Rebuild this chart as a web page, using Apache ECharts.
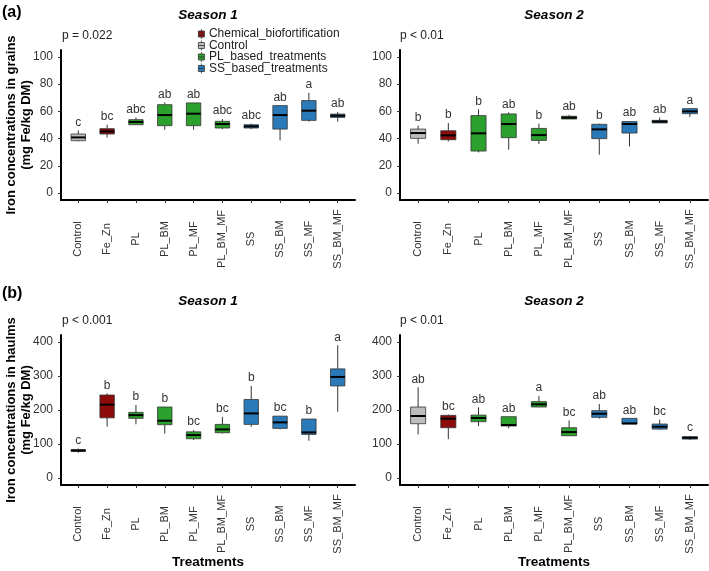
<!DOCTYPE html>
<html>
<head>
<meta charset="utf-8">
<script src="https://cdn.jsdelivr.net/npm/echarts@6.0.0/dist/echarts.min.js"></script>
<style>
html,body{margin:0;padding:0;background:#fff;}
#main{width:709px;height:571px;}
</style>
</head>
<body>
<div id="main"></div>
<script>
var treatments = ['Control','Fe_Zn','PL','PL_BM','PL_MF','PL_BM_MF','SS','SS_BM','SS_MF','SS_BM_MF'];
var treatmentGroup = ['Control','Chemical_biofortification','PL_based_treatments','PL_based_treatments','PL_based_treatments',
    'PL_based_treatments','SS_based_treatments','SS_based_treatments','SS_based_treatments','SS_based_treatments'];
var legendNames = ['Chemical_biofortification','Control','PL_based_treatments','SS_based_treatments'];

// box stats: [min, Q1, median, Q3, max]
var grainS1 = [
    [38.0, 38.5, 40.9, 43.4, 46.0], [40.9, 43.4, 45.3, 47.3, 50.2], [50.0, 50.2, 52.2, 53.9, 55.6],
    [46.5, 49.5, 57.3, 64.9, 66.6], [46.5, 49.5, 58.3, 66.2, 66.2], [47.0, 47.8, 50.7, 52.7, 54.4],
    [47.0, 47.8, 49.0, 50.2, 51.0], [38.7, 47.0, 57.3, 64.2, 64.2], [52.4, 53.4, 60.5, 67.9, 73.5],
    [52.4, 55.6, 56.8, 58.0, 59.6]
];
var grainS2 = [
    [36.3, 40.2, 44.1, 47.0, 49.5], [38.0, 39.2, 42.4, 45.8, 51.5], [29.9, 30.9, 43.9, 56.9, 61.5],
    [31.9, 40.7, 50.7, 58.1, 59.3], [36.0, 38.7, 42.6, 47.5, 51.0], [54.4, 54.4, 55.4, 56.4, 57.4],
    [28.2, 40.0, 46.8, 50.5, 51.0], [34.3, 44.1, 50.7, 52.5, 52.9], [51.5, 51.5, 52.5, 53.4, 55.4],
    [55.9, 58.3, 60.0, 62.0, 62.0]
];
var haulmS1 = [
    [74.5, 78.4, 81, 84, 87], [151, 177, 215.7, 244, 249], [158, 175.5, 185, 193, 214.7],
    [131, 156.9, 168.6, 208.8, 208.8], [111.8, 115.7, 126.5, 136, 141], [131, 133.3, 143, 157.8, 180],
    [151, 157.8, 190, 231, 270.6], [143, 146, 163.7, 182, 182], [109.8, 128.4, 134.3, 173.5, 173.5],
    [195, 270.6, 297, 320.6, 390]
];
var haulmS2 = [
    [128.4, 159.8, 182.4, 208.8, 266.7], [114.7, 148, 174.5, 184.3, 187], [153, 165.7, 176.5, 185, 207.8],
    [146, 153, 156, 180.4, 180.4], [208.8, 208.8, 216.7, 224.5, 241], [124.5, 124.5, 135.3, 148, 169.6],
    [174.5, 178.4, 189, 198, 217.6], [158.8, 158.8, 160.8, 175.5, 175.5], [142, 144, 151, 158.8, 171.6],
    [111.8, 114.7, 118.6, 121.6, 123.5]
];

// significance letters
var lettersGrainS1 = ['c','bc','abc','ab','ab','abc','abc','ab','a','ab'];
var lettersGrainS2 = ['b','b','b','ab','b','ab','b','ab','ab','a'];
var lettersHaulmS1 = ['c','b','b','b','bc','bc','b','bc','b','a'];
var lettersHaulmS2 = ['ab','bc','ab','ab','a','bc','ab','ab','bc','c'];

var pLabels = ['p = 0.022', 'p < 0.01', 'p < 0.001', 'p < 0.01'];
var grainTicks = [0, 20, 40, 60, 80, 100];
var haulmTicks = [0, 100, 200, 300, 400];
var catTicks = [0, 1, 2, 3, 4, 5, 6, 7, 8, 9];

var colors = {
    'Chemical_biofortification': '#8e0b0b',
    'Control': '#bdbdbd',
    'PL_based_treatments': '#2ca02c',
    'SS_based_treatments': '#2a7ab9'
};
var FONT = '"Liberation Sans", Arial, sans-serif';

var panels = [
    {stats: grainS1, letters: lettersGrainS1, left: 61, top: 50, width: 294, ticks: grainTicks, min: -5, max: 105,
        yName: 'Iron concentrations in grains\n(mg Fe/kg DM)', xName: ''},
    {stats: grainS2, letters: lettersGrainS2, left: 400, top: 50, width: 308, ticks: grainTicks, min: -5, max: 105,
        yName: '', xName: ''},
    {stats: haulmS1, letters: lettersHaulmS1, left: 61, top: 335, width: 294, ticks: haulmTicks, min: -20, max: 420,
        yName: 'Iron concentrations in haulms\n(mg Fe/kg DM)', xName: 'Treatments'},
    {stats: haulmS2, letters: lettersHaulmS2, left: 400, top: 335, width: 308, ticks: haulmTicks, min: -20, max: 420,
        yName: '', xName: 'Treatments'}
];

function boxRenderer(stats, letters) {
    return function (params, api) {
        var i = params.dataIndex;
        var s = stats[i];
        var x = api.coord([i, s[2]])[0];
        var yMin = api.coord([i, s[0]])[1];
        var yQ1 = api.coord([i, s[1]])[1];
        var yMed = api.coord([i, s[2]])[1];
        var yQ3 = api.coord([i, s[3]])[1];
        var yMax = api.coord([i, s[4]])[1];
        var hw = api.size([0.5, 0])[0] / 2;
        var fill = colors[treatmentGroup[i]];
        return {
            type: 'group',
            children: [
                {type: 'line', shape: {x1: x, y1: yMax, x2: x, y2: yQ3}, style: {stroke: '#333', lineWidth: 1}},
                {type: 'line', shape: {x1: x, y1: yQ1, x2: x, y2: yMin}, style: {stroke: '#333', lineWidth: 1}},
                {type: 'rect', shape: {x: x - hw, y: yQ3, width: hw * 2, height: Math.max(yQ1 - yQ3, 1)},
                    style: {fill: fill, stroke: '#333', lineWidth: 0.8}},
                {type: 'line', shape: {x1: x - hw, y1: yMed, x2: x + hw, y2: yMed}, style: {stroke: '#000', lineWidth: 2}},
                {type: 'text', style: {text: letters[i], x: x, y: yMax - 8, align: 'center', verticalAlign: 'middle',
                    fontSize: 12, fontFamily: FONT, fill: '#333'}}
            ]
        };
    };
}

showchart();

function showchart() {
    var myChart = echarts.init(document.getElementById('main'));
    var grid = [], xAxis = [], yAxis = [], series = [];

    panels.forEach(function (p, k) {
        grid.push({left: p.left, top: p.top, width: p.width, height: 150});
        xAxis.push({
            type: 'value', gridIndex: k, min: -0.6, max: 9.6,
            splitLine: {show: false},
            axisLine: {onZero: false, lineStyle: {color: '#000', width: 2}},
            axisTick: {customValues: catTicks, length: 3, lineStyle: {color: '#333'}},
            axisLabel: {
                customValues: catTicks, rotate: 90, align: 'center', verticalAlign: 'middle', margin: 39,
                fontSize: 11, fontFamily: FONT, color: '#333',
                formatter: function (v) { return treatments[v]; }
            },
            name: p.xName, nameLocation: 'middle', nameGap: 70, nameMoveOverlap: false,
            nameTextStyle: {fontSize: 13.5, fontWeight: 'bold', fontFamily: FONT, color: '#000'}
        });
        yAxis.push({
            type: 'value', gridIndex: k, min: p.min, max: p.max,
            splitLine: {show: false},
            axisLine: {show: true, onZero: false, lineStyle: {color: '#000', width: 2}},
            axisTick: {show: true, customValues: p.ticks, length: 3, lineStyle: {color: '#333'}},
            axisLabel: {customValues: p.ticks, margin: 8, fontSize: 12, fontFamily: FONT, color: '#333'},
            name: p.yName, nameLocation: 'middle', nameGap: 27, nameRotate: 90, nameMoveOverlap: false,
            nameTextStyle: {fontSize: 13, fontWeight: 'bold', fontFamily: FONT, color: '#000', lineHeight: 15}
        });
        series.push({
            type: 'custom',
            xAxisIndex: k, yAxisIndex: k,
            renderItem: boxRenderer(p.stats, p.letters),
            encode: {x: 0, y: [1, 2, 3, 4, 5]},
            data: p.stats.map(function (s, i) { return [i].concat(s); }),
            silent: true
        });
    });

    // legend-only series
    legendNames.forEach(function (n) {
        series.push({name: n, type: 'custom', coordinateSystem: 'none', renderItem: function () { return null; },
            data: [], itemStyle: {color: colors[n]}});
    });

    var texts = [
        {text: '(a)', x: 2, y: 13, font: 'bold 16px ' + FONT},
        {text: '(b)', x: 2, y: 294, font: 'bold 16px ' + FONT},
        {text: 'Season 1', x: 208, y: 15, font: 'italic bold 13.5px ' + FONT, align: 'center'},
        {text: 'Season 2', x: 554, y: 15, font: 'italic bold 13.5px ' + FONT, align: 'center'},
        {text: 'Season 1', x: 208, y: 301, font: 'italic bold 13.5px ' + FONT, align: 'center'},
        {text: 'Season 2', x: 554, y: 301, font: 'italic bold 13.5px ' + FONT, align: 'center'},
        {text: pLabels[0], x: 62, y: 36, font: '12px ' + FONT, fill: '#222'},
        {text: pLabels[1], x: 400, y: 36, font: '12px ' + FONT, fill: '#222'},
        {text: pLabels[2], x: 62, y: 321, font: '12px ' + FONT, fill: '#222'},
        {text: pLabels[3], x: 400, y: 321, font: '12px ' + FONT, fill: '#222'}
    ];

    option = {
        animation: false,
        backgroundColor: '#fff',
        grid: grid,
        xAxis: xAxis,
        yAxis: yAxis,
        legend: {
            data: legendNames,
            orient: 'vertical',
            left: 193, top: 23,
            itemWidth: 7, itemHeight: 10, itemGap: -0.5,
            icon: 'path://M0,2 L6,2 L6,8 L0,8 Z M0,5 L6,5 M3,0 L3,2 M3,8 L3,10',
            selectedMode: false,
            itemStyle: {borderColor: '#333', borderWidth: 0.8},
            textStyle: {fontSize: 12, fontFamily: FONT, color: '#222', lineHeight: 11.5, padding: [0, 0, 0, -1]}
        },
        graphic: texts.map(function (t) {
            return {type: 'text', x: t.x, y: t.y, silent: true,
                style: {text: t.text, font: t.font, fill: t.fill || '#000', align: t.align || 'left', verticalAlign: 'middle'}};
        }),
        series: series
    };
    myChart.setOption(option);
}
</script>
</body>
</html>
